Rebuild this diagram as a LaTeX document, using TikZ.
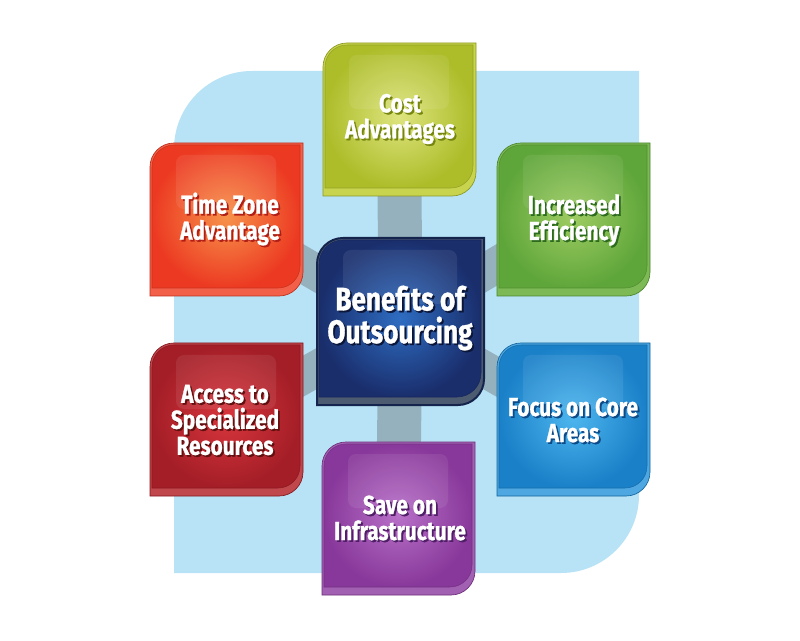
\documentclass[tikz,border=0pt]{standalone}
\usepackage{fontspec}
\newfontfamily\lbl{Fira Sans}[FakeStretch=0.8, BoldFeatures={FakeBold=1}]
\definecolor{bg}{HTML}{B8E3F6}
\definecolor{conn}{HTML}{96B1BE}
\definecolor{costedge}{HTML}{C8D44E}\definecolor{costout}{HTML}{ADBD2A}\definecolor{costin}{HTML}{DDE47E}\definecolor{costsh}{HTML}{76860E}
\definecolor{timeedge}{HTML}{F2604A}\definecolor{timeout}{HTML}{EC3A22}\definecolor{timein}{HTML}{F7924A}\definecolor{timesh}{HTML}{B01E16}
\definecolor{incredge}{HTML}{7DBA55}\definecolor{incrout}{HTML}{5FA63A}\definecolor{incrin}{HTML}{9ECC62}\definecolor{incrsh}{HTML}{2D6B1E}
\definecolor{centedge}{HTML}{4D5B70}\definecolor{centout}{HTML}{1A2E6C}\definecolor{centin}{HTML}{2E6DC2}\definecolor{centsh}{HTML}{0B1638}\definecolor{centline}{HTML}{15244C}
\definecolor{accedge}{HTML}{C0474C}\definecolor{accout}{HTML}{A41E27}\definecolor{accin}{HTML}{D8353C}\definecolor{accsh}{HTML}{601010}
\definecolor{focedge}{HTML}{4EA7E0}\definecolor{focout}{HTML}{1A80C8}\definecolor{focin}{HTML}{4DB6EE}\definecolor{focsh}{HTML}{0D4A88}
\definecolor{saveedge}{HTML}{A260B2}\definecolor{saveout}{HTML}{88389A}\definecolor{savein}{HTML}{B870C8}\definecolor{savesh}{HTML}{4F1E66}
% slab: left, right, topY, bottomY, radius
\newcommand\slab[5]{(#1,#4) -- (#1,#3-#5) arc[start angle=180,end angle=90,radius=#5] -- (#2,#3) -- (#2,#4+#5) arc[start angle=0,end angle=-90,radius=#5] -- cycle}
\newcommand\tile[5]{%
 \pgfmathsetmacro\xa{#1}\pgfmathsetmacro\xb{#1+#3}%
 \pgfmathsetmacro\ya{640-#2}\pgfmathsetmacro\yb{640-#2-#3}%
 \pgfmathsetmacro\rr{#5-2}%
 \fill[#4edge, draw=#4out!80!black, line width=0.5pt] \slab{\xa}{\xb}{\ya}{\yb}{#5};
 \shadedraw[inner color=#4in, outer color=#4out, draw=#4out!85!black, line width=0.4pt] \slab{\xa+2}{\xb-3}{\ya-2}{\yb+8}{\rr};
 \fill[white, fill opacity=0.08, rounded corners=6pt] (\xa+26,\ya-12) rectangle (\xb-27,\ya-66);
}
\newcommand\lab[6]{%
 \node[#5, text=#4] (#1-sh) at (#2+1.8,640-#3-1.8) {#6};
 \node[#5] (#1) at (#2,640-#3) {#6};
}
\begin{document}
\begin{tikzpicture}[x=0.75pt,y=0.75pt,
  boxtext/.style={align=center, text=white, inner sep=0pt, font=\lbl\bfseries\fontsize{19.5}{19.5}\selectfont},
  bigtext/.style={boxtext, font=\lbl\bfseries\fontsize{24.5}{24.5}\selectfont},
  link/.style={conn, line width=27pt, line cap=butt},
  vlink/.style={conn, line width=33pt, line cap=butt}]
\useasboundingbox (0,0) rectangle (800,640);
\fill[white] (0,0) rectangle (800,640);
% background panel
\fill[bg] \slab{174}{639}{569}{67}{78};
% hub coordinates
\coordinate (hub) at (400.5,318.5);
\coordinate (costc) at (399,520.5);
\coordinate (timec) at (226,420);
\coordinate (incrc) at (573,420);
\coordinate (accc) at (226,220.5);
\coordinate (focc) at (573,220.5);
\coordinate (savec) at (398,121.5);
% connectors
\draw[vlink] (hub) -- (costc);
\draw[vlink] (hub) -- (savec);
\draw[link] (hub) -- (timec);
\draw[link] (hub) -- (incrc);
\draw[link] (hub) -- (accc);
\draw[link] (hub) -- (focc);
% tiles
\tile{323}{43}{153}{cost}{24}
\tile{150}{143}{153}{time}{24}
\tile{497}{143}{153}{incr}{24}
\tile{150}{343}{153}{acc}{24}
\tile{497}{343}{153}{foc}{24}
\tile{322}{442}{153}{save}{24}
\tile{317}{238}{167}{cent}{26}
\draw[centline, line width=1.5pt] \slab{317}{484}{402}{235}{26};
% labels
\lab{cost}{400}{119}{costsh}{boxtext}{Cost\\Advantages}
\lab{time}{230}{219}{timesh}{boxtext}{Time Zone\\Advantage}
\lab{incr}{574}{220}{incrsh}{boxtext}{Increased\\Efficiency}
\lab{acc}{225}{420}{accsh}{boxtext}{Access to\\Specialized\\Resources}
\lab{foc}{573}{420}{focsh}{boxtext}{Focus on Core\\Areas}
\lab{save}{400}{518}{savesh}{boxtext}{Save on\\Infrastructure}
\lab{cent}{400}{318}{centsh}{bigtext}{Benefits of\\Outsourcing}
\end{tikzpicture}
\end{document}
